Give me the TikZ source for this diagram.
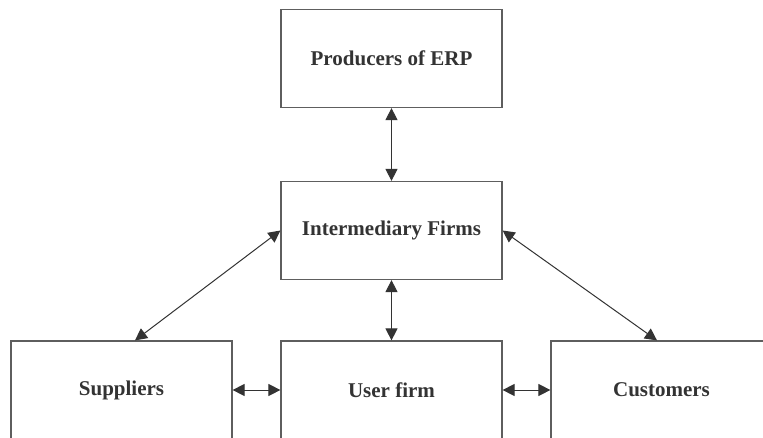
\documentclass[tikz,border=0pt]{standalone}
\usepackage{fontspec}
\setmainfont{Liberation Serif}
\usetikzlibrary{arrows.meta}
\definecolor{boxgray}{HTML}{5E5E5E}
\definecolor{txtgray}{HTML}{333333}
\begin{document}
\begin{tikzpicture}[x=1pt,y=1pt,
  box/.style={draw=boxgray, line width=1.2pt, minimum width=221pt, minimum height=98pt,
    inner sep=0pt, font=\fontsize{21}{25}\selectfont\bfseries, text=txtgray},
  link/.style={draw=txtgray, line width=1pt,
    {Triangle[length=12pt,width=12pt]}-{Triangle[length=12pt,width=12pt]}}]
\useasboundingbox (0,0) rectangle (763,437);
\clip (0,0) rectangle (763,437);
\fill[white] (0,0) rectangle (763,437);
\node[box] (prod)  at (391.5,378.5) {Producers of ERP};
\node[box] (inter) at (391.5,206.5) {Intermediary Firms};
\node[box] (supp)  at (121.5,47) {Suppliers};
\node[box] (user)  at (391.5,47) {User firm};
\node[box] (cust)  at (661.5,47) {Customers};
\draw[link] (prod.south) -- (inter.north);
\draw[link] (inter.south) -- (user.north);
\draw[link] (inter.west) -- ([xshift=13.5pt]supp.north);
\draw[link] (inter.east) -- ([xshift=-4.5pt]cust.north);
\draw[link] (supp.east) -- (user.west);
\draw[link] (user.east) -- (cust.west);
\end{tikzpicture}
\end{document}
